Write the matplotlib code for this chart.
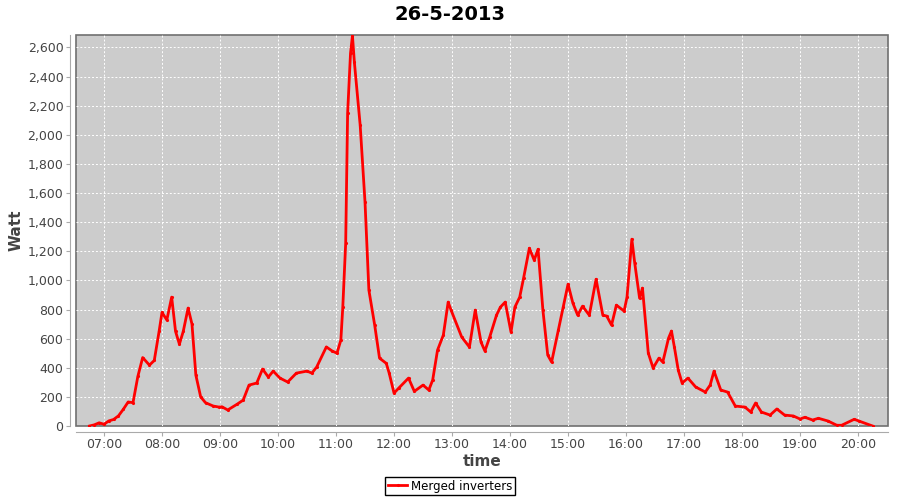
import pandas as pd
import matplotlib
matplotlib.use("Agg")
import matplotlib.pyplot as plt
import matplotlib.dates as mdates
from matplotlib.ticker import FuncFormatter, MultipleLocator

day = "2013-05-26"
times = ["06:45", "06:50", "06:55", "07:00", "07:05", "07:10", "07:15", "07:20", "07:25", "07:30",
         "07:35", "07:40", "07:47", "07:52", "07:57", "08:00", "08:05", "08:10", "08:14", "08:18",
         "08:22", "08:27", "08:31", "08:35", "08:40", "08:45", "08:53", "08:59", "09:02", "09:08",
         "09:18", "09:24", "09:30", "09:38", "09:44", "09:50", "09:55", "10:02", "10:10", "10:19",
         "10:30", "10:35", "10:40", "10:50", "10:56", "11:01", "11:05", "11:07", "11:10", "11:12",
         "11:15", "11:17", "11:19", "11:25", "11:30", "11:34", "11:40", "11:45", "11:52", "11:55",
         "12:00", "12:05", "12:15", "12:21", "12:30", "12:36", "12:40", "12:45", "12:51", "12:56",
         "12:59", "13:10", "13:18", "13:24", "13:30", "13:34", "13:39", "13:46", "13:50", "13:55",
         "14:01", "14:05", "14:10", "14:14", "14:20", "14:25", "14:29", "14:34", "14:39", "14:43",
         "14:50", "14:55", "15:00", "15:05", "15:10", "15:15", "15:22", "15:29", "15:36", "15:40",
         "15:45", "15:50", "15:58", "16:01", "16:06", "16:09", "16:14", "16:17", "16:23", "16:28",
         "16:34", "16:38", "16:44", "16:47", "16:50", "16:54", "16:58", "17:04", "17:12", "17:22",
         "17:27", "17:31", "17:38", "17:45", "17:53", "18:03", "18:09", "18:14", "18:20", "18:29",
         "18:36", "18:44", "18:53", "19:00", "19:05", "19:13", "19:19", "19:29", "19:38", "19:43",
         "19:56", "20:01", "20:15"]
watts = [0, 8, 22, 12, 35, 45, 70, 115, 165, 160,
         340, 470, 418, 450, 650, 780, 728, 885, 650, 562,
         650, 810, 700, 350, 200, 160, 137, 130, 132, 110,
         151, 178, 281, 295, 391, 336, 377, 329, 302, 363,
         377, 363, 405, 543, 515, 500, 590, 816, 1255, 2147,
         2560, 2680, 2497, 2065, 1537, 933, 693, 466, 430, 363,
         226, 261, 329, 238, 281, 247, 316, 521, 624, 851,
         796, 611, 542, 796, 576, 515, 611, 761, 816, 851,
         645, 816, 885, 1015, 1221, 1139, 1214, 796, 487, 439,
         658, 816, 974, 844, 761, 823, 761, 1008, 761, 755,
         693, 830, 789, 885, 1283, 1118, 878, 947, 501, 398,
         466, 439, 604, 652, 542, 384, 295, 329, 268, 233,
         281, 377, 247, 233, 137, 130, 96, 158, 96, 75,
         117, 75, 69, 48, 60, 41, 53, 34, 5, 5,
         46, 34, 0]

t = pd.to_datetime([day + " " + s for s in times])

fig = plt.figure(figsize=(9, 5), dpi=100)
ax = fig.add_axes([0.0844, 0.148, 0.9023, 0.782])
ax.set_facecolor("#cccccc")
ax.patch.set_edgecolor("#707070")
ax.patch.set_linewidth(1.2)

ax.plot(t, watts, color="#ff0000", lw=2, marker=".", ms=2.5, label="Merged inverters")

ax.set_xlim(pd.Timestamp(day + " 06:31"), pd.Timestamp(day + " 20:31"))
ax.set_ylim(0, 2685)
ax.xaxis.set_major_locator(mdates.HourLocator())
ax.xaxis.set_major_formatter(mdates.DateFormatter("%H:%M"))
ax.yaxis.set_major_locator(MultipleLocator(200))
ax.yaxis.set_major_formatter(FuncFormatter(lambda v, p: f"{int(v):,}"))

ax.grid(True, color="white", ls=(0, (2, 2)), lw=0.7)
for s in ["top", "right"]:
    ax.spines[s].set_visible(False)
for s in ["bottom", "left"]:
    ax.spines[s].set_position(("outward", 4))
    ax.spines[s].set_color("#aaaaaa")
ax.tick_params(colors="#aaaaaa", labelcolor="#444444", labelsize=9, length=3, pad=2)

ax.set_xlabel("time", fontsize=11, fontweight="bold", color="#444444", labelpad=2)
ax.set_ylabel("Watt", fontsize=11, fontweight="bold", color="#444444", labelpad=3)
fig.suptitle("26-5-2013", fontsize=14, fontweight="bold", y=0.99)

fig.legend(loc="lower center", bbox_to_anchor=(0.5, 0.002), fontsize=8.5, fancybox=False,
           edgecolor="black", framealpha=1, handlelength=1.6, handletextpad=0.3,
           borderpad=0.25, borderaxespad=0.3)

fig.savefig("out.png", dpi=100)
